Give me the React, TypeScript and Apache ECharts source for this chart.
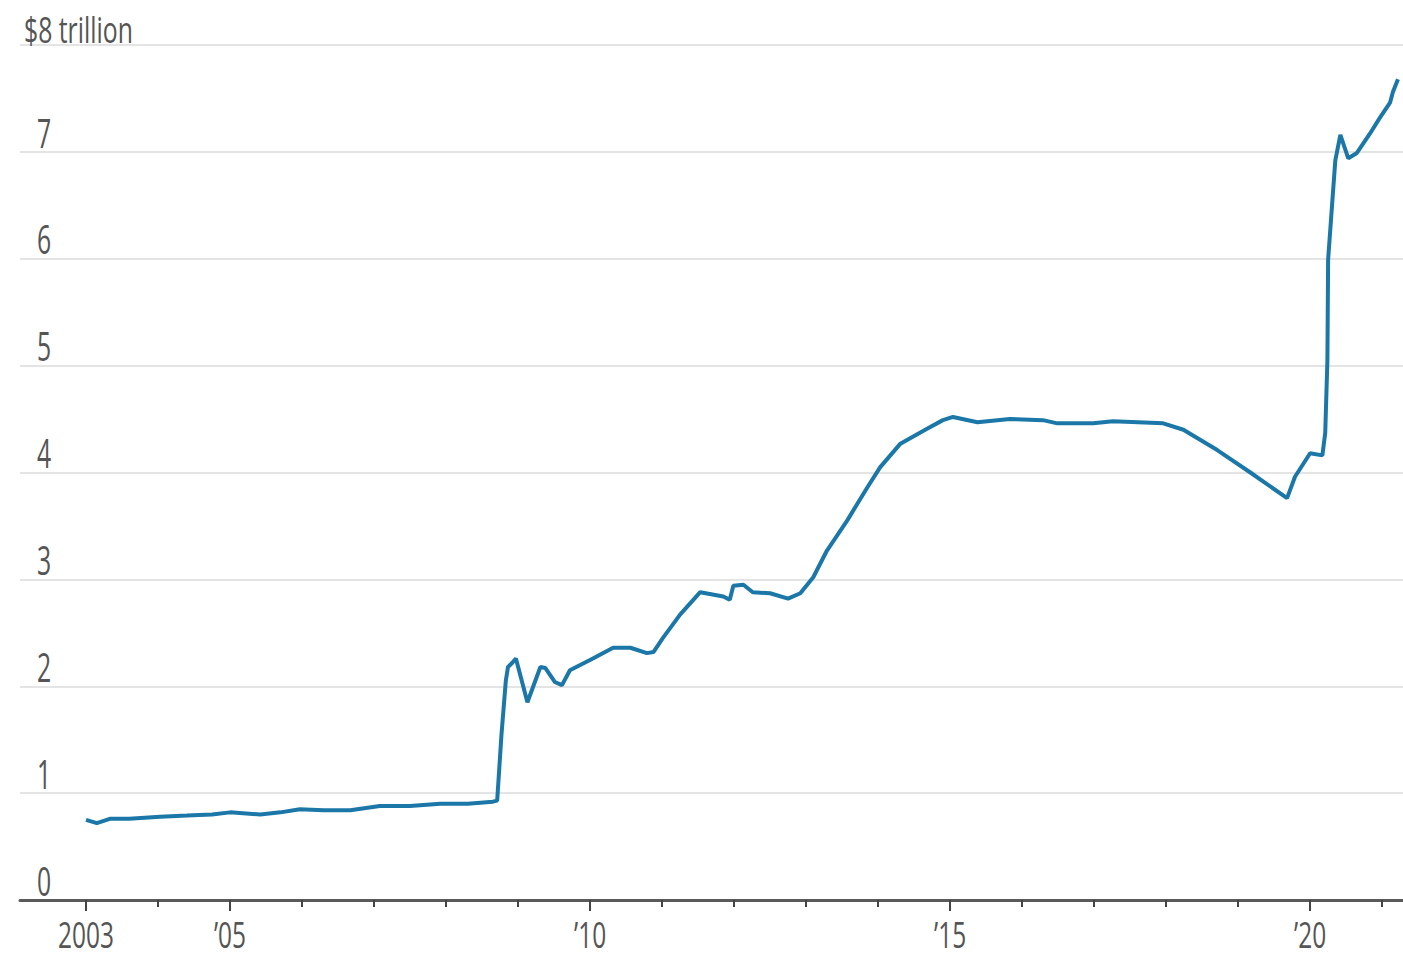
import React, { useEffect, useRef } from "react";
import * as echarts from "echarts";

// Fed balance sheet, trillions of dollars (decimal year, value)
const years: number[] = [
  2003.0, 2003.15, 2003.33, 2003.6, 2004.03, 2004.4, 2004.75, 2005.0, 2005.42, 2005.7, 2005.97,
  2006.3, 2006.67, 2007.08, 2007.5, 2007.92, 2008.3, 2008.65, 2008.71, 2008.77, 2008.83,
  2008.86, 2008.92, 2008.97, 2009.13, 2009.31, 2009.38, 2009.51, 2009.61, 2009.72, 2010.04,
  2010.32, 2010.56, 2010.79, 2010.88, 2011.01, 2011.25, 2011.53, 2011.85, 2011.94, 2011.99,
  2012.13, 2012.26, 2012.5, 2012.75, 2012.92, 2013.1, 2013.29, 2013.57, 2013.85, 2014.03,
  2014.31, 2014.68, 2014.9, 2015.04, 2015.38, 2015.83, 2016.29, 2016.49, 2016.99, 2017.26,
  2017.96, 2018.24, 2018.71, 2019.17, 2019.68, 2019.79, 2020.0, 2020.17, 2020.21, 2020.24,
  2020.25, 2020.31, 2020.35, 2020.42, 2020.53, 2020.65, 2020.83, 2020.97, 2021.11, 2021.15,
  2021.22,
];
const values: number[] = [
  0.75, 0.72, 0.76, 0.76, 0.78, 0.79, 0.8, 0.82, 0.8, 0.82, 0.85,
  0.84, 0.84, 0.88, 0.88, 0.9, 0.9, 0.92, 0.93, 1.55, 2.05,
  2.18, 2.22, 2.26, 1.85, 2.18, 2.17, 2.04, 2.01, 2.15, 2.26,
  2.36, 2.36, 2.31, 2.32, 2.45, 2.67, 2.88, 2.84, 2.81, 2.94,
  2.95, 2.88, 2.87, 2.82, 2.87, 3.02, 3.27, 3.55, 3.86, 4.05,
  4.27, 4.41, 4.49, 4.52, 4.47, 4.5, 4.49, 4.46, 4.46, 4.48,
  4.46, 4.4, 4.21, 4.0, 3.76, 3.96, 4.18, 4.16, 4.37, 5.05,
  5.99, 6.55, 6.92, 7.16, 6.94, 6.99, 7.17, 7.32, 7.46, 7.56,
  7.68,
];
const tickYears: number[] = [
  2003, 2004, 2005, 2006, 2007, 2008, 2009, 2010, 2011, 2012, 2013,
  2014, 2015, 2016, 2017, 2018, 2019, 2020, 2021,
];
const labelYears: number[] = [2003, 2005, 2010, 2015, 2020];
const xLabels: string[] = ["2003", "\u201905", "\u201910", "\u201915", "\u201920"];
const yTicks: number[] = [0, 1, 2, 3, 4, 5, 6, 7];
const yLabels: string[] = ["0", "1", "2", "3", "4", "5", "6", "7"];
const unitLabel = "$8 trillion";

const FONT = "'Open Sans', 'Noto Sans', sans-serif";
const TEXT_COLOR = "#555555";

export default function App() {
  const ref = useRef<HTMLDivElement>(null);
  useEffect(() => {
    if (!ref.current) return;
    const chart = echarts.init(ref.current, undefined, { renderer: "svg" });
    const xMin = 2002.083;
    const xMax = 2021.29;
    chart.setOption({
      animation: false,
      backgroundColor: "#ffffff",
      grid: { left: 20, right: 0, top: 45, bottom: 60, containLabel: false },
      xAxis: [
        {
          type: "value",
          min: xMin,
          max: xMax,
          position: "bottom",
          axisLine: { show: true, onZero: false, lineStyle: { color: "#5a5a5a", width: 3 } },
          axisTick: { show: true, customValues: tickYears, length: 7, lineStyle: { color: "#444", width: 2 } },
          axisLabel: { show: false },
          splitLine: { show: false },
        },
        {
          type: "value",
          min: xMin,
          max: xMax,
          position: "bottom",
          offset: 0,
          axisLine: { show: false, onZero: false },
          axisTick: { show: true, customValues: labelYears, length: 11, lineStyle: { color: "#444", width: 2 } },
          axisLabel: { show: false },
          splitLine: { show: false },
        },
      ],
      yAxis: {
        type: "value",
        min: 0,
        max: 8,
        interval: 1,
        axisLine: { show: false },
        axisTick: { show: false },
        axisLabel: { show: false },
        splitLine: { show: true, lineStyle: { color: "#e4e4e4", width: 2 } },
      },
      series: [
        {
          type: "line",
          xAxisIndex: 0,
          data: years.map((y, i) => [y, values[i]]),
          showSymbol: false,
          symbol: "none",
          lineStyle: { color: "#1b77a8", width: 4 },
          z: 5,
        },
      ],
    });

    // Condensed-looking labels placed through the chart's own scales
    const px = (v: number) => chart.convertToPixel({ xAxisIndex: 0 }, v) as number;
    const py = (v: number) => chart.convertToPixel({ yAxisIndex: 0 }, v) as number;
    const textStyle = (text: string, align: string, size: number) => ({
      text,
      fill: TEXT_COLOR,
      fontSize: size,
      lineHeight: 30,
      fontFamily: FONT,
      align,
      verticalAlign: "middle",
    });
    const graphics: any[] = [];
    labelYears.forEach((yr, i) => {
      graphics.push({
        type: "text",
        x: px(yr),
        y: py(0) + 34,
        scaleX: 0.68,
        style: textStyle(xLabels[i], "center", 36),
      });
    });
    yTicks.forEach((v, i) => {
      graphics.push({
        type: "text",
        x: 37,
        y: py(v) - 20,
        scaleX: 0.62,
        style: textStyle(yLabels[i], "left", 40),
      });
    });
    graphics.push({
      type: "text",
      x: 24,
      y: py(8) - 17,
      scaleX: 0.67,
      style: textStyle(unitLabel, "left", 37),
    });
    chart.setOption({ graphic: graphics });

    return () => chart.dispose();
  }, []);
  return (
    <div
      ref={ref}
      style={{ position: "absolute", left: 0, top: 0, width: 1403, height: 960 }}
    />
  );
}
